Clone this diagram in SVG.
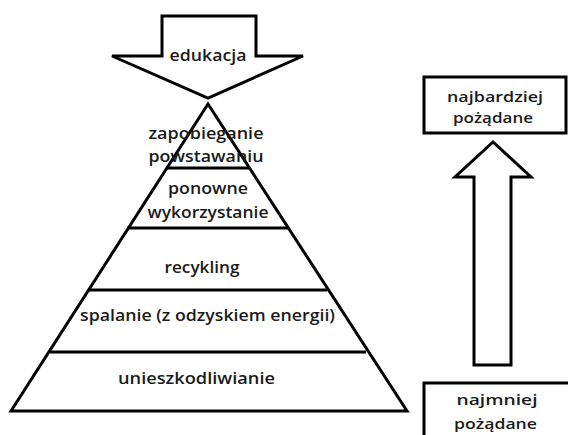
<svg xmlns="http://www.w3.org/2000/svg" width="568" height="435" viewBox="0 0 568 435">
<style>
.s{fill:#fff;stroke:#000;stroke-width:3;stroke-linejoin:miter}
.l{stroke:#000;stroke-width:3;fill:none}
text{font-family:"Open Sans","Liberation Sans",sans-serif;font-size:15.5px;font-weight:600;fill:#1a1a1a;text-anchor:middle}
.r{font-size:15px}
</style>
<rect width="568" height="435" fill="#fff"/>
<g id="edukacja">
<polygon class="s" points="162,16 256,16 256,56 303,56 208,98 112,56 162,56"/>
<text x="208" y="61" textLength="77" lengthAdjust="spacingAndGlyphs">edukacja</text>
</g>
<g id="pyramid">
<polygon class="s" points="208,104 407,411 11,411"/>
</g>
<g id="connectors">
<line class="l" x1="166" y1="168" x2="249" y2="168"/>
<line class="l" x1="127" y1="228" x2="288" y2="228"/>
<line class="l" x1="89" y1="290" x2="327" y2="290"/>
<line class="l" x1="50" y1="352" x2="366" y2="352"/>
<polygon class="s" points="474,365 474,177 455,177 493,142 531,177 511,177 511,365"/>
</g>
<g id="zapobieganie">
<text x="206" y="139" textLength="115" lengthAdjust="spacingAndGlyphs">zapobieganie</text>
<text x="206" y="162" textLength="115" lengthAdjust="spacingAndGlyphs">powstawaniu</text>
</g>
<g id="ponowne">
<text x="208" y="194" textLength="80" lengthAdjust="spacingAndGlyphs">ponowne</text>
<text x="208" y="218" textLength="121" lengthAdjust="spacingAndGlyphs">wykorzystanie</text>
</g>
<g id="recykling">
<text x="202" y="273" textLength="75" lengthAdjust="spacingAndGlyphs">recykling</text>
</g>
<g id="spalanie">
<text x="207.5" y="321" textLength="255" lengthAdjust="spacingAndGlyphs">spalanie (z odzyskiem energii)</text>
</g>
<g id="unieszkodliwianie">
<text x="196.5" y="384" textLength="157" lengthAdjust="spacingAndGlyphs">unieszkodliwianie</text>
</g>
<g id="najbardziej">
<rect class="s" x="424" y="77" width="142" height="56" stroke-width="2.5"/>
<text class="r" x="495" y="102" textLength="96" lengthAdjust="spacingAndGlyphs">najbardziej</text>
<text class="r" x="493" y="123" textLength="80" lengthAdjust="spacingAndGlyphs">pożądane</text>
</g>
<g id="najmniej">
<rect class="s" x="424" y="383" width="160" height="70" stroke-width="2.5"/>
<text class="r" x="497" y="405" textLength="81" lengthAdjust="spacingAndGlyphs">najmniej</text>
<text class="r" x="495.5" y="429" textLength="83" lengthAdjust="spacingAndGlyphs">pożądane</text>
</g>
</svg>
